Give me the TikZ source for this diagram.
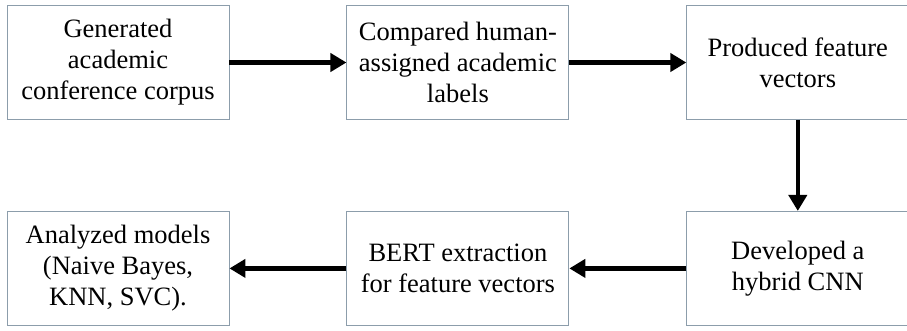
\documentclass[tikz,border=0pt]{standalone}
\usepackage{fontspec}
\setmainfont{Liberation Serif}
\usepackage{tikz}
\usetikzlibrary{
  positioning
  , arrows.meta
}

\definecolor{boxline}{HTML}{8C9DAB}

\begin{document}
\begin{tikzpicture}[x=1pt, y=1pt,
    stepbox/.style={rectangle,
      draw=boxline,
      line width=0.9pt,
      minimum width=222pt,
      minimum height=114pt,
      inner sep=2pt,
      align=center,
      font=\fontsize{26.5}{31}\selectfont},
    flow/.style={-{Triangle[length=16pt,width=18pt]}, line width=4.5pt},
    node distance=117pt and 91pt]
      \useasboundingbox (0,0) rectangle (907,-330);

      % upper row, left to right
      \node [stepbox] (gen) at (118,-62.5)
        {Generated\\academic\\conference corpus};
      \node [stepbox, right=117pt of gen] (cmp)
        {Compared human-\\assigned academic\\labels};
      \node [stepbox, right=117pt of cmp] (feat)
        {Produced feature\\vectors};

      % lower row, right to left
      \node [stepbox, below=91pt of feat] (cnn)
        {Developed a\\hybrid CNN};
      \node [stepbox, left=117pt of cnn] (bert)
        {BERT extraction\\for feature vectors};
      \node [stepbox, left=117pt of bert] (models)
        {Analyzed models\\(Naive Bayes,\\KNN, SVC).};

      \draw [flow] (gen) -- (cmp);
      \draw [flow] (cmp) -- (feat);
      \draw [flow] (feat) -- (cnn);
      \draw [flow] (cnn) -- (bert);
      \draw [flow] (bert) -- (models);
    \end{tikzpicture}
\end{document}
